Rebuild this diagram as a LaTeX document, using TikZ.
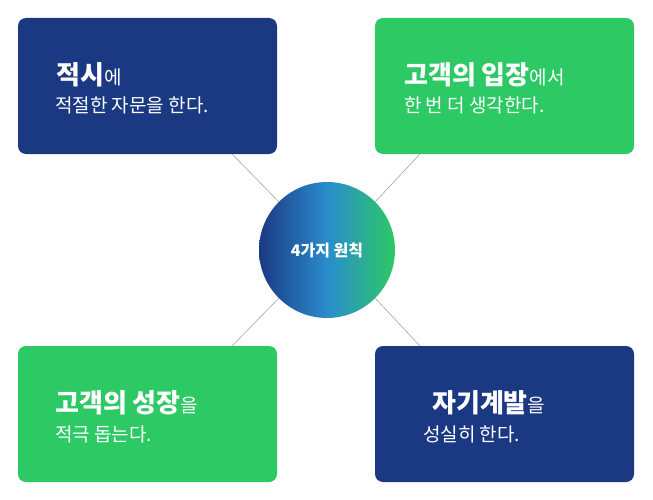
\documentclass[tikz,border=0pt]{standalone}
\usepackage{fontspec}
\setmainfont{Noto Sans CJK KR}
\newfontfamily\kb[BoldFont={Noto Sans CJK KR Bold}]{Noto Sans CJK KR}
\usetikzlibrary{calc}
\definecolor{dblue}{RGB}{27,57,131}
\definecolor{dgreen}{RGB}{44,201,101}
\definecolor{cmid}{RGB}{42,140,205}
\tikzset{
 card/.style={rounded corners=8pt,minimum width=259pt,minimum height=136pt,inner sep=0pt},
 big/.style={font=\fontsize{26pt}{30pt}\selectfont\bfseries,text=white},
 small/.style={font=\fontsize{19pt}{23pt}\selectfont,text=white},
 link/.style={draw=gray!70,line width=0.6pt},
}
\begin{document}
\begin{tikzpicture}[x=1pt,y=-1pt]
\useasboundingbox (0,0) rectangle (653,500);
\node[card,fill=dblue] (tl) at (147.5,86) {};
\node[card,fill=dgreen] (tr) at (504.5,86) {};
\node[card,fill=dgreen] (bl) at (147.5,414) {};
\node[card,fill=dblue] (br) at (504.5,414) {};
\coordinate (tlc) at ($(tl.south east)+(-45,0)$);
\coordinate (trc) at ($(tr.south west)+(45,0)$);
\coordinate (blc) at ($(bl.north east)+(-45,0)$);
\coordinate (brc) at ($(br.north west)+(45,0)$);
\node[circle,minimum size=136pt,inner sep=0pt,left color=dblue,right color=dgreen,middle color=cmid] (c) at (327,250) {};
\node[font=\fontsize{16pt}{18pt}\selectfont\bfseries,text=white] (ct) at (c) {4가지 원칙};
\draw[link] (tlc) -- (c.135);
\draw[link] (trc) -- (c.45);
\draw[link] (blc) -- (c.225);
\draw[link] (brc) -- (c.315);
\node[anchor=base west,text=white,inner sep=0pt] (t1a) at (56,85) {{\fontsize{26pt}{30pt}\selectfont\bfseries 적시}{\fontsize{19pt}{23pt}\selectfont 에}};
\node[small,anchor=base west,inner sep=0pt] (t1b) at (55,113) {적절한 자문을 한다.};
\node[anchor=base west,text=white,inner sep=0pt] (t2a) at (404,85) {{\fontsize{26pt}{30pt}\selectfont\bfseries 고객의 입장}{\fontsize{19pt}{23pt}\selectfont 에서}};
\node[small,anchor=base west,inner sep=0pt] (t2b) at (404,113) {한 번 더 생각한다.};
\node[anchor=base west,text=white,inner sep=0pt] (t3a) at (55,412) {{\fontsize{26pt}{30pt}\selectfont\bfseries 고객의 성장}{\fontsize{19pt}{23pt}\selectfont 을}};
\node[small,anchor=base west,inner sep=0pt] (t3b) at (55,441) {적극 돕는다.};
\node[anchor=base west,text=white,inner sep=0pt] (t4a) at (432,412) {{\fontsize{26pt}{30pt}\selectfont\bfseries 자기계발}{\fontsize{19pt}{23pt}\selectfont 을}};
\node[small,anchor=base west,inner sep=0pt] (t4b) at (423,441) {성실히 한다.};
\end{tikzpicture}
\end{document}
